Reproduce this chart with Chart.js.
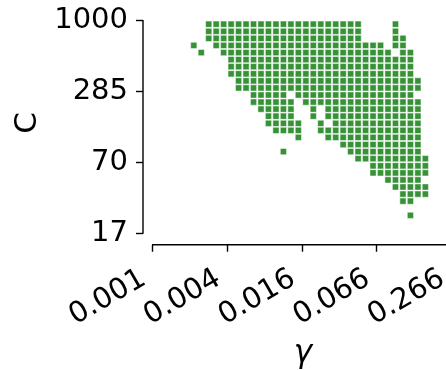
<!DOCTYPE html>
<html>
<head>
<meta charset="utf-8">
<script src="https://cdn.jsdelivr.net/npm/chart.js@4.4.1/dist/chart.umd.min.js"></script>
<style>
html, body { margin: 0; padding: 0; background: #fff; overflow: hidden; }
#wrap { position: relative; width: 460px; height: 370px; }
</style>
</head>
<body>
<div id="wrap"><canvas id="gridChart"></canvas></div>
<script>
// axis tick labels, one every 10 grid steps
const gammaTicks = ['0.001', '0.004', '0.016', '0.066', '0.266'];
const cTicks = ['17', '70', '285', '1000'];

// grid rows (C index) and the γ-index ranges that are filled in each row
const rowIndex = [29, 28, 27, 26, 25, 24, 23, 22, 21, 20, 19, 18, 17, 16, 15, 14, 13, 12, 11, 10, 9, 8, 7, 6, 5, 4, 2];
const rowSpans = [
    [[7, 27], [32, 32]],
    [[7, 27], [32, 32]],
    [[7, 27], [32, 33]],
    [[5, 5], [8, 30], [32, 33]],
    [[6, 6], [9, 31], [33, 34]],
    [[10, 34]],
    [[10, 34]],
    [[10, 34]],
    [[11, 35]],
    [[11, 35]],
    [[13, 17], [19, 34]],
    [[13, 18], [20, 35]],
    [[14, 18], [21, 21], [23, 35]],
    [[15, 18], [21, 21], [23, 35]],
    [[15, 19], [22, 22], [24, 35]],
    [[16, 19], [22, 35]],
    [[19, 19], [23, 35]],
    [[25, 35]],
    [[17, 17], [26, 35]],
    [[27, 36]],
    [[29, 36]],
    [[29, 36]],
    [[31, 35]],
    [[32, 36]],
    [[33, 36]],
    [[33, 34]],
    [[34, 34]]
];

const points = [];
rowIndex.forEach((row, k) => {
    rowSpans[k].forEach(([from, to]) => {
        for (let col = from; col <= to; col++) {
            points.push({ x: col + 0.5, y: row + 0.5 });
        }
    });
});

const FONT = 'DejaVu Sans';

// trimmed, offset spines plus the two axis titles
const spines = {
    id: 'spines',
    afterDraw(chart) {
        const { ctx, chartArea, scales: { x, y } } = chart;
        ctx.save();
        ctx.strokeStyle = '#000';
        ctx.lineWidth = 1.4;
        ctx.lineCap = 'square';
        ctx.beginPath();
        ctx.moveTo(chartArea.left, y.getPixelForValue(0));
        ctx.lineTo(chartArea.left, y.getPixelForValue(30));
        ctx.moveTo(x.getPixelForValue(0), chartArea.bottom);
        ctx.lineTo(x.getPixelForValue(40), chartArea.bottom);
        ctx.stroke();

        ctx.fillStyle = '#000';
        ctx.textAlign = 'center';
        ctx.textBaseline = 'alphabetic';
        ctx.font = 'italic 31px ' + FONT;
        ctx.fillText('γ', 303, 362);
        ctx.font = '31px ' + FONT;
        ctx.translate(36, 123);
        ctx.rotate(-Math.PI / 2);
        ctx.fillText('C', 0, 0);
        ctx.restore();
    }
};

new Chart(document.getElementById('gridChart'), {
    type: 'scatter',
    data: {
        datasets: [{
            data: points,
            pointStyle: 'rect',
            pointRadius: 4.4,
            pointHoverRadius: 4.4,
            backgroundColor: 'rgb(55, 145, 55)',
            borderColor: 'rgba(255, 255, 255, 0.5)',
            borderWidth: 1
        }]
    },
    options: {
        responsive: true,
        maintainAspectRatio: false,
        devicePixelRatio: 1,
        animation: false,
        layout: { padding: { top: 15, right: 8.5, bottom: 0, left: 0 } },
        plugins: { legend: { display: false }, tooltip: { enabled: false } },
        scales: {
            x: {
                type: 'linear',
                min: -1.2985,
                max: 40,
                afterBuildTicks: (s) => { s.ticks = gammaTicks.map((_, i) => ({ value: i * 10 })); },
                afterFit: (s) => { s.height = 125.3; s.paddingLeft = 0; s.paddingRight = 0; },
                border: { display: false },
                grid: { drawOnChartArea: false, drawTicks: true, tickLength: 7, tickWidth: 1.4, tickColor: '#000' },
                ticks: {
                    color: '#000',
                    font: { family: FONT, size: 29 },
                    minRotation: 30,
                    maxRotation: 30,
                    padding: 10,
                    labelOffset: -9,
                    callback: (v) => gammaTicks[Math.round(v / 10)]
                }
            },
            y: {
                type: 'linear',
                min: -1.653,
                max: 30.805,
                afterBuildTicks: (s) => { s.ticks = cTicks.map((_, i) => ({ value: i * 10 })); },
                afterFit: (s) => { s.width = 143; s.paddingTop = 0; s.paddingBottom = 0; },
                border: { display: false },
                grid: { drawOnChartArea: false, drawTicks: true, tickLength: 7, tickWidth: 1.4, tickColor: '#000' },
                ticks: {
                    color: '#000',
                    font: { family: FONT, size: 29 },
                    padding: 8,
                    callback: (v) => cTicks[Math.round(v / 10)]
                }
            }
        }
    },
    plugins: [spines]
});
</script>
</body>
</html>
